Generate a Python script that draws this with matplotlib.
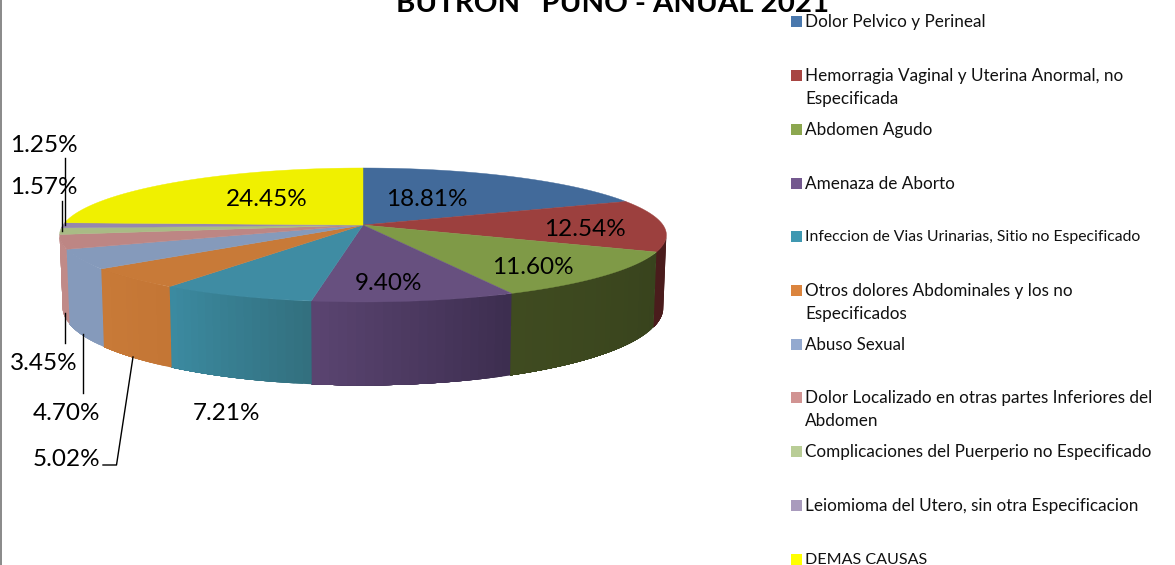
import numpy as np
import matplotlib
matplotlib.use('Agg')
import matplotlib.pyplot as plt
from matplotlib.patches import Polygon, Rectangle

plt.rcParams['font.family'] = ['Lato', 'DejaVu Sans']

title = 'BUTRON   PUNO - ANUAL 2021'
names = ['Dolor Pelvico y Perineal',
         'Hemorragia Vaginal y Uterina Anormal, no\nEspecificada',
         'Abdomen Agudo',
         'Amenaza de Aborto',
         'Infeccion de Vias Urinarias, Sitio no Especificado',
         'Otros dolores Abdominales y los no\nEspecificados',
         'Abuso Sexual',
         'Dolor Localizado en otras partes Inferiores del\nAbdomen',
         'Complicaciones del Puerperio no Especificado',
         'Leiomioma del Utero, sin otra Especificacion',
         'DEMAS CAUSAS']
values = [18.81, 12.54, 11.60, 9.40, 7.21, 5.02, 4.70, 3.45, 1.57, 1.25, 24.45]
top_colors = ['#426a9a', '#9c403e', '#7f9a47', '#67507f', '#3f8ca3', '#c87a38',
              '#859abb', '#bd8684', '#a9bb85', '#9587ae', '#f0f000']
wall_from = ['#426a9a', '#4a1c1c', '#38431d', '#3d2e50', '#33707f', '#c47635',
             '#859abb', '#c08a88', '#a9bb85', '#9587ae', '#f0f000']
wall_to = ['#426a9a', '#4a1c1c', '#3f4b20', '#5a4470', '#3b8aa0', '#c87a38',
           '#859abb', '#c08a88', '#a9bb85', '#9587ae', '#f0f000']
legend_colors = ['#4a78ad', '#a84542', '#8ca74f', '#74598f', '#3f98b1', '#db843d',
                 '#93a9cf', '#d19392', '#b9cd96', '#a99bbd', '#ffff00']

# pie shape, in pixels
cx, cy = 363, 225
a, b, k = 300, 65.5, 0.149
depth = 71


def top_pt(t):
    u, v = np.sin(t), np.cos(t)
    return cx + a * u / (1 + k * v), cy - b * v / (1 + k * v)


def bottom_pt(t):
    u, v = np.sin(t), np.cos(t)
    x, y = top_pt(t)
    return cx + (x - cx) * 0.99, y + depth / (1 + k * v)


fig = plt.figure(figsize=(11.75, 5.65), dpi=100)
ax = fig.add_axes([0, 0, 1, 1])
ax.set_xlim(0, 1175)
ax.set_ylim(565, 0)
ax.axis('off')

ax.add_patch(Rectangle((0, 0), 2, 565, color='#8c8c8c', lw=0))

edges = np.radians(np.concatenate([[0], np.cumsum(values)]) * 3.6)
vis0, vis1 = np.arccos(-k), 2 * np.pi - np.arccos(-k)

# side wall, each strip runs on to the slice end so no seams show
for i in range(len(values)):
    t0, t1 = max(edges[i], vis0), min(edges[i + 1], vis1)
    if t1 <= t0:
        continue
    n = max(int((t1 - t0) * 40), 2)
    c0 = np.array(matplotlib.colors.to_rgb(wall_from[i]))
    c1 = np.array(matplotlib.colors.to_rgb(wall_to[i]))
    ts = np.linspace(t0, t1, n + 1)
    for j in range(n):
        tt = np.linspace(ts[j], t1, 30)
        xt, yt = top_pt(tt)
        xb, yb = bottom_pt(tt[::-1])
        col = c0 + (c1 - c0) * j / max(n - 1, 1)
        ax.add_patch(Polygon(np.column_stack([np.r_[xt, xb], np.r_[yt, yb]]),
                             facecolor=col, edgecolor='none', lw=0))

# top face
for i in range(len(values)):
    tt = np.linspace(edges[i], edges[i + 1], 80)
    x, y = top_pt(tt)
    ax.add_patch(Polygon(np.column_stack([np.r_[cx, x], np.r_[cy, y]]),
                         facecolor=top_colors[i], edgecolor=top_colors[i], lw=0.3))

# data labels
label_xy = [(427, 199), (585, 230), (533, 268), (388, 283), (226, 413), (66, 460),
            (66, 414), (44, 364), (44, 188), (44, 145), (267, 200)]
for val, (x, y) in zip(values, label_xy):
    ax.text(x, y, '%.2f%%' % val, ha='center', va='center', fontsize=17.5, color='black')

# leader lines
ax.plot([64.5, 64.5], [158, 225], color='black', lw=1)
ax.plot([62, 62], [201, 231], color='black', lw=1)
ax.plot([65, 65], [313, 343], color='black', lw=1)
ax.plot([83, 83], [334, 393], color='black', lw=1)
ax.plot([133, 116.5, 103], [357, 465, 465], color='black', lw=1)

ax.text(612.5, 12, title, ha='center', va='baseline', fontsize=21.2, fontweight='bold', color='black')

# legend
legend_y = [21, 75, 129, 183, 236, 290, 344, 397, 451, 505, 559]
legend_size = [12.3, 12.35, 12.3, 12.35, 11.35, 12.35, 12.2, 12.35, 12.35, 12.35, 11.6]
for name, col, y, fs in zip(names, legend_colors, legend_y, legend_size):
    ax.add_patch(Rectangle((790.5, y - 5.5), 11, 11, color=col, lw=0))
    for n, line in enumerate(name.split('\n')):
        ax.text(805, y + 1 + n * 23, line, ha='left', va='center', fontsize=fs, color='#111111')

fig.savefig('out.png', dpi=100, facecolor='white')
